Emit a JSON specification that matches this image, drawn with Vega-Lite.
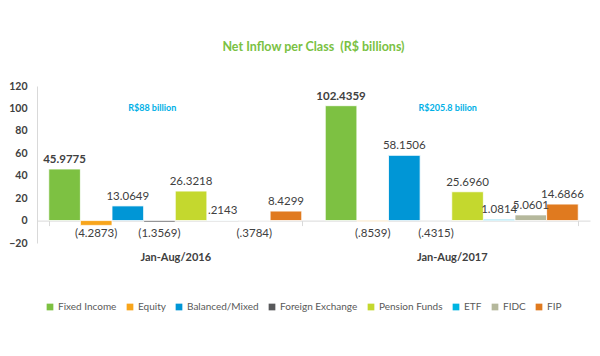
{
  "$schema": "https://vega.github.io/schema/vega-lite/v6.json",
  "width": 553,
  "height": 157,
  "autosize": {"type": "none"},
  "padding": {"left": 37, "top": 86, "right": 10, "bottom": 113},
  "background": "white",
  "title": {
    "text": "Net Inflow per Class\u00a0 (R$ billions)",
    "color": "#7AC143",
    "font": "Lato",
    "fontSize": 12.5,
    "fontWeight": "bold",
    "offset": 28,
    "anchor": "middle"
  },
  "config": {
    "view": {"stroke": null},
    "font": "Lato",
    "axis": {"labelOverlap": false},
    "axisY": {"labelOverlap": false, "labelBound": false}
  },
  "data": {
    "values": [
      {"period": "Jan-Aug/2016", "class": "Fixed Income", "value": 45.9775, "label": "45.9775"},
      {"period": "Jan-Aug/2016", "class": "Equity", "value": -4.2873, "label": "(4.2873)"},
      {"period": "Jan-Aug/2016", "class": "Balanced/Mixed", "value": 13.0649, "label": "13.0649"},
      {"period": "Jan-Aug/2016", "class": "Foreign Exchange", "value": -1.3569, "label": "(1.3569)"},
      {"period": "Jan-Aug/2016", "class": "Pension Funds", "value": 26.3218, "label": "26.3218"},
      {"period": "Jan-Aug/2016", "class": "ETF", "value": 0.2143, "label": ".2143"},
      {"period": "Jan-Aug/2016", "class": "FIDC", "value": -0.3784, "label": "(.3784)"},
      {"period": "Jan-Aug/2016", "class": "FIP", "value": 8.4299, "label": "8.4299"},
      {"period": "Jan-Aug/2017", "class": "Fixed Income", "value": 102.4359, "label": "102.4359"},
      {"period": "Jan-Aug/2017", "class": "Equity", "value": -0.8539, "label": "(.8539)"},
      {"period": "Jan-Aug/2017", "class": "Balanced/Mixed", "value": 58.1506, "label": "58.1506"},
      {"period": "Jan-Aug/2017", "class": "Foreign Exchange", "value": -0.4315, "label": "(.4315)"},
      {"period": "Jan-Aug/2017", "class": "Pension Funds", "value": 25.696, "label": "25.6960"},
      {"period": "Jan-Aug/2017", "class": "ETF", "value": 1.0814, "label": "1.0814"},
      {"period": "Jan-Aug/2017", "class": "FIDC", "value": 5.0601, "label": "5.0601"},
      {"period": "Jan-Aug/2017", "class": "FIP", "value": 14.6866, "label": "14.6866"}
    ]
  },
  "encoding": {
    "x": {
      "field": "period",
      "type": "nominal",
      "scale": {"paddingInner": 0.085, "paddingOuter": 0.0425},
      "axis": {
        "title": null,
        "labelAngle": 0,
        "labelFontWeight": "bold",
        "labelFontSize": 11,
        "labelColor": "#404040",
        "domainColor": "#D9D9D9",
        "tickColor": "#D9D9D9",
        "tickBand": "extent",
        "tickSize": 5,
        "offset": -22.4,
        "labelPadding": 26
      }
    },
    "xOffset": {
      "field": "class",
      "type": "nominal",
      "scale": {"domain": ["Fixed Income", "Equity", "Balanced/Mixed", "Foreign Exchange", "Pension Funds", "ETF", "FIDC", "FIP"], "paddingInner": 0, "paddingOuter": 0}
    }
  },
  "layer": [
    {
      "mark": {"type": "bar", "stroke": "white", "strokeWidth": 0.8},
      "encoding": {
        "y": {
          "field": "value",
          "type": "quantitative",
          "scale": {"domain": [-20, 120], "nice": false},
          "axis": {
            "title": null,
            "values": [-20, 0, 20, 40, 60, 80, 100, 120],
            "grid": false,
            "ticks": false,
            "tickSize": 0,
            "labelPadding": 10,
            "labelOverlap": false,
            "labelFontWeight": "bold",
            "labelFontSize": 10.5,
            "labelColor": "#404040",
            "domainColor": "#D9D9D9"
          }
        },
        "color": {
          "field": "class",
          "type": "nominal",
          "scale": {
            "domain": ["Fixed Income", "Equity", "Balanced/Mixed", "Foreign Exchange", "Pension Funds", "ETF", "FIDC", "FIP"],
            "range": ["#7DC142", "#F8A51B", "#0096D6", "#58595B", "#C4D82E", "#00B5E2", "#B5B89C", "#E07A1F"]
          },
          "legend": {
            "title": null,
            "orient": "none",
            "legendX": 8,
            "legendY": 216,
            "direction": "horizontal",
            "symbolType": "square",
            "symbolSize": 45,
            "symbolStrokeWidth": 0,
            "symbolOffset": 0,
            "labelOffset": 3,
            "labelFontSize": 10,
            "labelColor": "#595959",
            "columnPadding": 8
          }
        }
      }
    },
    {
      "transform": [{"filter": "datum.value >= 0 && datum['class'] == 'Fixed Income'"}],
      "mark": {"type": "text", "baseline": "bottom", "dy": -4, "fontSize": 11.5, "fontWeight": "bold", "color": "#404040"},
      "encoding": {
        "y": {"field": "value", "type": "quantitative", "axis": {"title": null, "values": [-20, 0, 20, 40, 60, 80, 100, 120], "labelOverlap": false}},
        "text": {"field": "label"}
      }
    },
    {
      "transform": [{"filter": "datum.value >= 0 && datum['class'] != 'Fixed Income'"}],
      "mark": {"type": "text", "baseline": "bottom", "dy": -4, "fontSize": 11.5, "color": "#404040"},
      "encoding": {
        "y": {"field": "value", "type": "quantitative", "axis": {"title": null, "values": [-20, 0, 20, 40, 60, 80, 100, 120], "labelOverlap": false}},
        "text": {"field": "label"}
      }
    },
    {
      "transform": [{"filter": "datum.value < 0"}],
      "mark": {"type": "text", "baseline": "middle", "dy": 13, "fontSize": 11.5, "color": "#404040"},
      "encoding": {
        "y": {"datum": 0, "type": "quantitative", "axis": {"title": null, "values": [-20, 0, 20, 40, 60, 80, 100, 120], "labelOverlap": false}},
        "text": {"field": "label"}
      }
    },
    {
      "data": {"values": [{"period": "Jan-Aug/2016", "note": "R$88 billion"}]},
      "mark": {"type": "text", "dx": -23, "fontSize": 9, "fontWeight": "bold", "color": "#00B0E6"},
      "encoding": {
        "xOffset": null,
        "y": {"datum": 100, "type": "quantitative", "axis": {"title": null, "values": [-20, 0, 20, 40, 60, 80, 100, 120], "labelOverlap": false}},
        "text": {"field": "note"}
      }
    },
    {
      "data": {"values": [{"period": "Jan-Aug/2017", "note": "R$205.8 bilion"}]},
      "mark": {"type": "text", "dx": -4, "fontSize": 9, "fontWeight": "bold", "color": "#00B0E6"},
      "encoding": {
        "xOffset": null,
        "y": {"datum": 100, "type": "quantitative", "axis": {"title": null, "values": [-20, 0, 20, 40, 60, 80, 100, 120], "labelOverlap": false}},
        "text": {"field": "note"}
      }
    }
  ]
}
